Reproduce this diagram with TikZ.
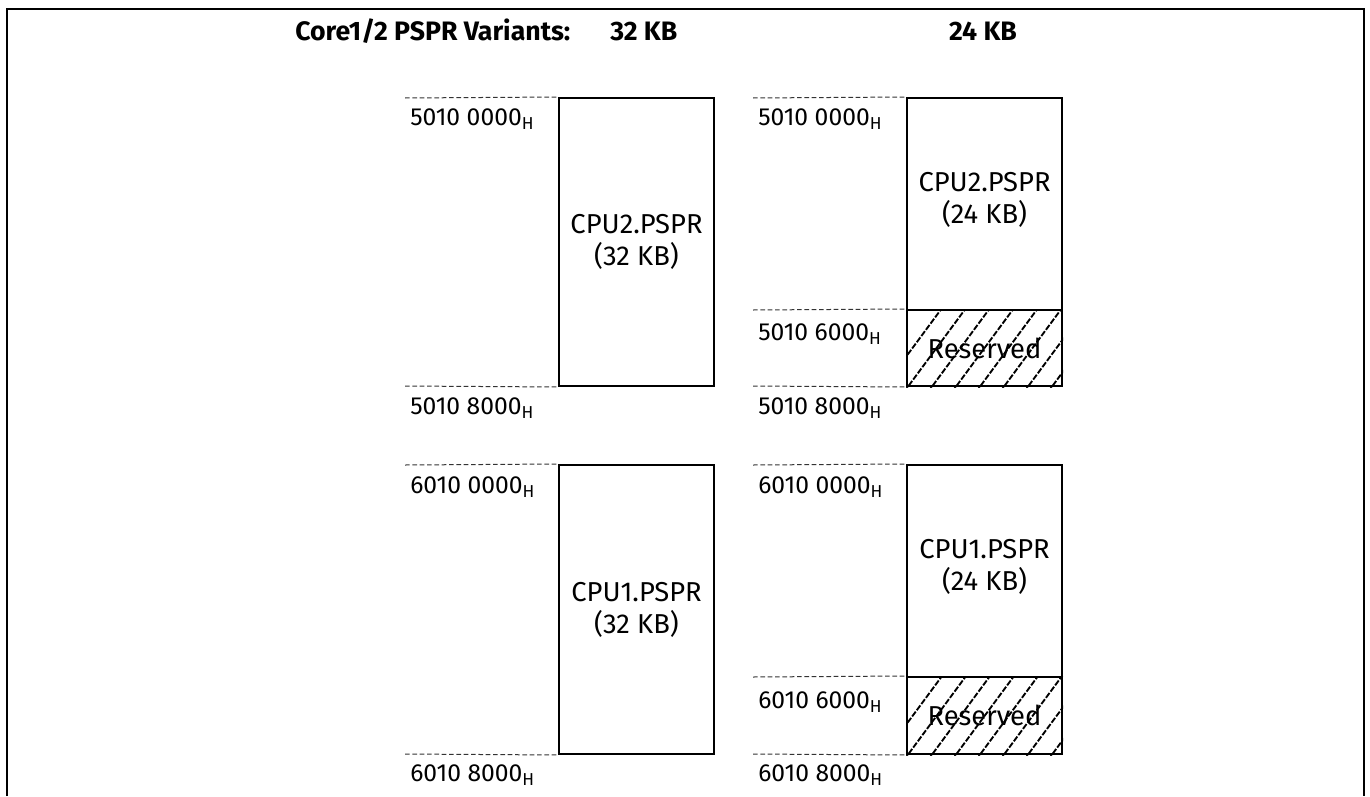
\documentclass[tikz,border=0pt]{standalone}
\usepackage{fontspec}
\setmainfont{Fira Sans}
\usetikzlibrary{fit}
\begin{document}
\begin{tikzpicture}[x=0.75pt,y=-0.75pt,
  frame/.style={line width=1.9pt},
  membox/.style={draw,line width=1.5pt,inner sep=0pt},
  guide/.style={draw=black!80,line width=0.75pt,dash pattern=on 3.5pt off 2pt},
  hatchline/.style={line width=1.4pt,dash pattern=on 4.5pt off 1.3pt},
  addr/.style={anchor=west,inner sep=0pt,font=\fontsize{18.5}{22}\selectfont},
  boxtext/.style={align=center,inner sep=0pt,font=\fontsize{20.5}{24}\selectfont},
  title/.style={inner sep=0pt,font=\fontsize{20}{24}\selectfont\bfseries}]
\useasboundingbox (0,0) rectangle (1370,796);
% frame
\draw[frame] (7,796) -- (7,9) -- (1364,9) -- (1364,796);
% titles
\node[title,anchor=west] (t1) at (295,31) {Core1/2 PSPR Variants:};
\node[title,anchor=west] (t2) at (610,31) {32 KB};
\node[title] (t3) at (983,31) {24 KB};
% ---- left column: 32 KB
\node[membox,fit={(559,98)(714,386)}] (a2) {};
\node[boxtext] (a2t) at (a2.center) {CPU2.PSPR\\(32 KB)};
\node[membox,fit={(559,465)(714,754)}] (a1) {};
\node[boxtext] (a1t) at (a1.center) {CPU1.PSPR\\(32 KB)};
% ---- right column: 24 KB
\node[membox,fit={(907,98)(1062,310)}] (b2) {};
\node[boxtext] (b2t) at ([yshift=3]b2.center) {CPU2.PSPR\\(24 KB)};
\node[membox,fit={(907,310)(1062,386)}] (r2) {};
\node[membox,fit={(907,465)(1062,677)}] (b1) {};
\node[boxtext] (b1t) at ([yshift=3]b1.center) {CPU1.PSPR\\(24 KB)};
\node[membox,fit={(907,677)(1062,754)}] (r1) {};
% hatching
\begin{scope}
  \clip (r2.south west) rectangle (r2.north east);
  \foreach \i in {0,...,9} {
    \draw[hatchline] (880+\i*24,392) -- (945+\i*24,304);
  }
\end{scope}
\begin{scope}
  \clip (r1.south west) rectangle (r1.north east);
  \foreach \i in {0,...,9} {
    \draw[hatchline] (880+\i*24,760) -- (945+\i*24,672);
  }
\end{scope}
\node[membox,fit={(907,310)(1062,386)}] (r2b) {};
\node[membox,fit={(907,677)(1062,754)}] (r1b) {};
\node[boxtext] (r2t) at (r2.center) {Reserved};
\node[boxtext] (r1t) at (r1.center) {Reserved};
% guide lines
\coordinate (ga1) at (405,98);
\coordinate (ga2) at (405,386);
\coordinate (ga3) at (405,465);
\coordinate (ga4) at (405,754);
\coordinate (gb1) at (753,98);
\coordinate (gb2) at (753,310);
\coordinate (gb3) at (753,386);
\coordinate (gb4) at (753,465);
\coordinate (gb5) at (753,677);
\coordinate (gb6) at (753,754);
\draw[guide] (ga1) -- (a2.north west);
\draw[guide] (ga2) -- (a2.south west);
\draw[guide] (ga3) -- (a1.north west);
\draw[guide] (ga4) -- (a1.south west);
\draw[guide] (gb1) -- (b2.north west);
\draw[guide] (gb2) -- (r2.north west);
\draw[guide] (gb3) -- (r2.south west);
\draw[guide] (gb4) -- (b1.north west);
\draw[guide] (gb5) -- (r1.north west);
\draw[guide] (gb6) -- (r1.south west);
% address labels
\node[addr] (la1) at (410,119) {5010 0000\textsubscript{H}};
\node[addr] (la2) at (410,408) {5010 8000\textsubscript{H}};
\node[addr] (la3) at (410,487) {6010 0000\textsubscript{H}};
\node[addr] (la4) at (410,775) {6010 8000\textsubscript{H}};
\node[addr] (lb1) at (758,119) {5010 0000\textsubscript{H}};
\node[addr] (lb2) at (758,334) {5010 6000\textsubscript{H}};
\node[addr] (lb3) at (758,408) {5010 8000\textsubscript{H}};
\node[addr] (lb4) at (758,487) {6010 0000\textsubscript{H}};
\node[addr] (lb5) at (758,702) {6010 6000\textsubscript{H}};
\node[addr] (lb6) at (758,775) {6010 8000\textsubscript{H}};
\end{tikzpicture}
\end{document}
